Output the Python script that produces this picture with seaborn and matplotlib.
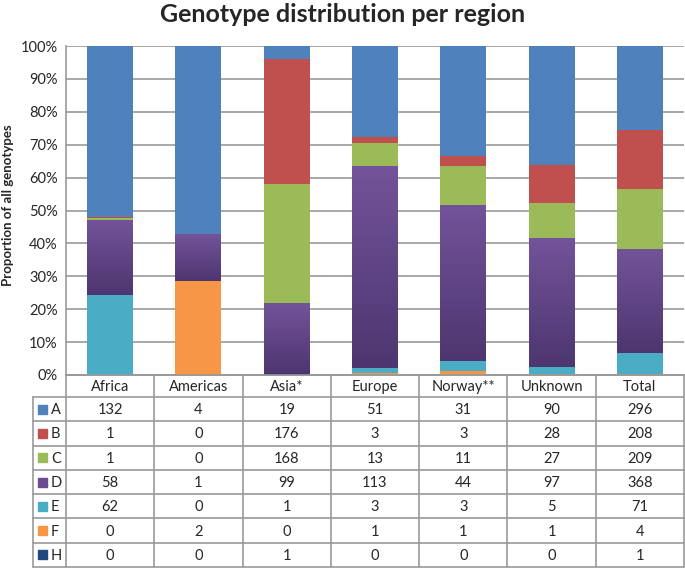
import numpy as np
import pandas as pd
import seaborn as sns
import matplotlib.pyplot as plt
from matplotlib.colors import LinearSegmentedColormap

regions = ["Africa", "Americas", "Asia*", "Europe", "Norway**", "Unknown", "Total"]
genotypes = ["A", "B", "C", "D", "E", "F", "H"]
A = [132, 4, 19, 51, 31, 90, 296]
B = [1, 0, 176, 3, 3, 28, 208]
C = [1, 0, 168, 13, 11, 27, 209]
D = [58, 1, 99, 113, 44, 97, 368]
E = [62, 0, 1, 3, 3, 5, 71]
F = [0, 2, 0, 1, 1, 1, 4]
H = [0, 0, 1, 0, 0, 0, 1]
colors = {"A": "#4f81bd", "B": "#c0504d", "C": "#9bbb59", "D": "#6a4c93",
          "E": "#4bacc6", "F": "#f79646", "H": "#1f497d"}

df = pd.DataFrame({"A": A, "B": B, "C": C, "D": D, "E": E, "F": F, "H": H},
                  index=regions)
pct = df.div(df.sum(axis=1), axis=0) * 100

sns.set_style("white")
plt.rcParams["font.family"] = ["Lato", "DejaVu Sans"]

W, Hh = 685, 569
fig = plt.figure(figsize=(W / 100, Hh / 100), dpi=100)
x0, x1 = 66, 684
ytop, ybot = 46, 375
ax = fig.add_axes([x0 / W, 1 - ybot / Hh, (x1 - x0) / W, (ybot - ytop) / Hh])

# stack from the bottom: H, F, E, D, C, B, A
stack_order = ["H", "F", "E", "D", "C", "B", "A"]
bottom = np.zeros(len(regions))
for g in stack_order:
    sns.barplot(x=regions, y=pct[g].values, bottom=bottom, color=colors[g],
                width=0.52, saturation=1, edgecolor="none", ax=ax, zorder=3)
    bottom = bottom + pct[g].values

# gradient on the D segments (lighter top, darker bottom)
purple = LinearSegmentedColormap.from_list("p", ["#4d3670", "#735399"])
nb = len(regions)
d_patches = ax.patches[nb * 3:nb * 4]
for p in d_patches:
    if p.get_height() <= 0:
        continue
    bx, by = p.get_x(), p.get_y()
    bw, bh = p.get_width(), p.get_height()
    grad = np.linspace(0, 1, 100).reshape(-1, 1)
    im = ax.imshow(grad, cmap=purple, origin="lower", aspect="auto",
                   extent=[bx, bx + bw, by, by + bh], zorder=3.5)
    im.set_clip_path(p)

ax.set_xlim(-0.5, len(regions) - 0.5)
ax.set_ylim(0, 100)
ax.set_yticks(np.arange(0, 101, 10))
ax.set_yticklabels([f"{v}%" for v in range(0, 101, 10)], fontsize=10.5)
ax.tick_params(axis="y", length=0, pad=6)
ax.set_xticks([])
ax.set_xlabel("")
ax.set_ylabel("")
ax.grid(axis="y", color="#999999", linewidth=1.2, zorder=0)
for s in ax.spines.values():
    s.set_color("#999999")
    s.set_linewidth(1.2)
ax.spines["top"].set_visible(False)
ax.spines["right"].set_visible(False)

fig.text(8 / W, 1 - 205 / Hh, "Proportion of all genotypes", rotation=90,
         ha="center", va="center", fontsize=9.5, fontweight="bold")
fig.text(343 / W, 1 - 15 / Hh, "Genotype distribution per region",
         ha="center", va="center", fontsize=18, fontweight="bold")

# data table underneath
tab = fig.add_axes([0, 0, 1, 1])
tab.set_xlim(0, W)
tab.set_ylim(Hh, 0)
tab.axis("off")
lc = "#999999"
lbl_x = 33
col_w = (x1 - x0) / len(regions)
head_top, head_bot = 375, 397
row_h = (567 - head_bot) / len(genotypes)

# header cells
for i, r in enumerate(regions):
    cx = x0 + col_w * (i + 0.5)
    tab.text(cx, (head_top + head_bot) / 2 + 1, r, ha="center", va="center",
             fontsize=10.5)
for i in range(len(regions) + 1):
    xx = x0 + col_w * i
    tab.plot([xx, xx], [head_top, 567], color=lc, lw=1.2)
tab.plot([lbl_x, lbl_x], [head_bot, 567], color=lc, lw=1.2)
tab.plot([x0, x1], [head_top, head_top], color=lc, lw=1.2)
for j in range(len(genotypes) + 1):
    yy = head_bot + row_h * j
    tab.plot([lbl_x, x1], [yy, yy], color=lc, lw=1.2)

for j, g in enumerate(genotypes):
    cy = head_bot + row_h * (j + 0.5)
    tab.add_patch(plt.Rectangle((38, cy - 4.5), 9, 9, color=colors[g]))
    tab.text(51, cy + 1, g, ha="left", va="center", fontsize=10.5)
    for i, r in enumerate(regions):
        cx = x0 + col_w * (i + 0.5)
        tab.text(cx, cy + 1, str(df.loc[r, g]), ha="center", va="center",
                 fontsize=10.5)

fig.savefig("out.png", dpi=100)
